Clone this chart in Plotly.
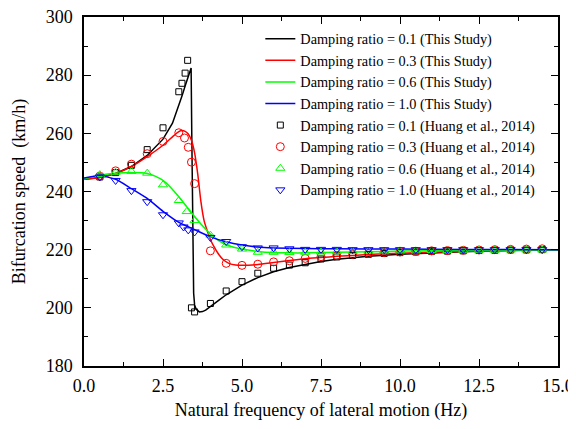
import plotly.graph_objects as go

# ---- Model curves (This Study) ----
x_01 = [0, 0.5, 1.0, 1.5, 2.0, 2.5, 2.8, 3.0, 3.1, 3.2, 3.3, 3.39, 3.41, 3.43, 3.45, 3.47, 3.5, 3.55, 3.65, 3.75, 3.85, 4.0, 4.25, 4.5, 5.0, 5.5, 6.0, 6.5, 7.0, 7.5, 8, 9, 10, 11, 12, 13, 14, 15]
y_01 = [244.2, 244.8, 246.2, 248.6, 252.4, 258.0, 263.5, 269.5, 272.8, 276.3, 279.6, 282.5, 260, 240, 220, 205, 201, 199.5, 198.6, 198.7, 199.2, 200.5, 202.5, 204.5, 207.8, 210.4, 212.4, 213.9, 215.0, 215.9, 216.7, 217.7, 218.4, 218.9, 219.3, 219.6, 219.8, 220.0]

x_03 = [0, 0.5, 1.0, 1.5, 2.0, 2.5, 2.8, 3.0, 3.1, 3.2, 3.3, 3.4, 3.5, 3.6, 3.7, 3.8, 3.9, 4.0, 4.1, 4.25, 4.4, 4.6, 4.8, 5.0, 5.5, 6.0, 6.5, 7.0, 7.5, 8, 9, 10, 11, 12, 13, 14, 15]
y_03 = [244.2, 244.8, 246.2, 248.6, 252.0, 255.9, 258.8, 260.6, 261.0, 260.7, 259.8, 257.6, 253.3, 246.0, 236.5, 230.0, 226.5, 223.5, 221.3, 218.6, 216.6, 215.2, 214.7, 214.6, 214.9, 215.6, 216.3, 216.9, 217.3, 217.7, 218.3, 218.8, 219.1, 219.4, 219.6, 219.8, 219.9]

x_06 = [0, 0.5, 1.0, 1.5, 2.0, 2.25, 2.5, 2.75, 3.0, 3.25, 3.5, 3.75, 4.0, 4.25, 4.5, 5.0, 5.5, 6.0, 6.5, 7.0, 8, 9, 10, 12, 15]
y_06 = [244.4, 245.6, 246.3, 246.5, 246.2, 245.3, 243.8, 241.3, 238.2, 234.8, 231.4, 228.2, 225.4, 223.2, 221.7, 220.2, 219.4, 219.0, 218.9, 218.9, 219.1, 219.3, 219.5, 219.7, 219.9]

x_10 = [0, 0.5, 1.0, 1.5, 2.0, 2.5, 3.0, 3.5, 4.0, 4.5, 5.0, 5.5, 6.0, 7.0, 8, 10, 12, 15]
y_10 = [244.6, 245.4, 244.2, 241.0, 237.6, 233.2, 229.4, 226.9, 224.4, 222.7, 221.6, 220.9, 220.6, 220.4, 220.3, 220.2, 220.1, 220.0]

# ---- Reference data (Huang et al., 2014) ----
hx_01 = [0.5, 1.0, 1.5, 2.0, 2.5, 3.0, 3.1, 3.2, 3.28, 3.4, 3.5, 4.0, 4.5, 5.0, 5.5, 6.0, 6.5, 7.0, 7.5, 8.0, 8.5, 9.0, 9.5, 10.0, 10.5, 11.0, 11.5, 12.0, 12.5, 13.0, 13.5, 14.0, 14.5]
hy_01 = [245.0, 246.5, 249.0, 254.4, 261.9, 274.3, 277.2, 280.7, 285.1, 200.0, 198.6, 201.5, 205.8, 209.0, 211.9, 213.6, 214.7, 215.5, 216.8, 217.5, 218.0, 218.4, 218.7, 219.0, 219.2, 219.4, 219.5, 219.6, 219.7, 219.8, 219.9, 219.9, 220.0]

hx_03 = [0.5, 1.0, 1.5, 2.0, 2.5, 3.0, 3.18, 3.3, 3.4, 3.5, 4.0, 4.5, 5.0, 5.5, 6.0, 6.5, 7.0, 7.5, 8.0, 8.5, 9.0, 9.5, 10.0, 10.5, 11.0, 11.5, 12.0, 12.5, 13.0, 13.5, 14.0, 14.5]
hy_03 = [245.3, 247.1, 249.4, 253.0, 257.2, 260.2, 258.4, 255.2, 250.1, 242.7, 219.6, 215.3, 214.6, 215.0, 215.8, 216.2, 217.0, 217.6, 218.0, 218.4, 218.7, 219.0, 219.2, 219.4, 219.6, 219.7, 219.8, 219.9, 220.0, 220.1, 220.2, 220.3]

hx_06 = [0.5, 1.0, 1.5, 2.0, 2.5, 3.0, 3.25, 3.5, 4.0, 4.5, 5.0, 5.5, 6.0, 6.5, 7.0, 7.5, 8.0, 8.5, 9.0, 9.5, 10.0, 10.5, 11.0, 11.5, 12.0, 12.5, 13.0, 13.5, 14.0, 14.5]
hy_06 = [245.8, 246.6, 246.9, 246.3, 242.3, 236.9, 233.1, 230.0, 225.0, 221.6, 220.2, 219.1, 219.1, 219.0, 219.1, 219.2, 219.3, 219.4, 219.5, 219.5, 219.6, 219.6, 219.7, 219.7, 219.8, 219.8, 219.8, 219.9, 219.9, 219.9]

hx_10 = [0.5, 1.0, 1.5, 2.0, 2.5, 3.0, 3.15, 3.3, 3.5, 4.0, 4.5, 5.0, 5.5, 6.0, 6.5, 7.0, 7.5, 8.0, 8.5, 9.0, 9.5, 10.0, 10.5, 11.0, 11.5, 12.0, 12.5, 13.0, 13.5, 14.0, 14.5]
hy_10 = [245.0, 243.8, 240.3, 236.5, 232.0, 229.2, 227.8, 226.8, 226.1, 224.2, 222.8, 221.0, 220.6, 220.6, 220.3, 220.1, 220.1, 220.1, 220.0, 220.0, 220.0, 220.0, 220.0, 220.0, 220.0, 220.0, 220.0, 220.0, 220.0, 220.0, 220.0]

x_ticks = [0.0, 2.5, 5.0, 7.5, 10.0, 12.5, 15.0]
y_ticks = [180, 200, 220, 240, 260, 280, 300]

FONT = "Liberation Serif"
fig = go.Figure()

lines = [
    (x_01, y_01, "#000000", "Damping ratio = 0.1 (This Study)", "linear"),
    (x_03, y_03, "#FF0000", "Damping ratio = 0.3 (This Study)", "spline"),
    (x_06, y_06, "#00FF00", "Damping ratio = 0.6 (This Study)", "spline"),
    (x_10, y_10, "#0000FF", "Damping ratio = 1.0 (This Study)", "spline"),
]
for xs, ys, c, name, shape in lines:
    fig.add_trace(go.Scatter(x=xs, y=ys, mode="lines", name=name,
                             line=dict(color=c, width=1.5, shape=shape, smoothing=0.6)))

marks = [
    (hx_01, hy_01, "#000000", "square-open", 6, "Damping ratio = 0.1 (Huang et al., 2014)"),
    (hx_03, hy_03, "#FF0000", "circle-open", 8, "Damping ratio = 0.3 (Huang et al., 2014)"),
    (hx_06, hy_06, "#00FF00", "triangle-up-open", 8, "Damping ratio = 0.6 (Huang et al., 2014)"),
    (hx_10, hy_10, "#0000FF", "triangle-down-open", 8, "Damping ratio = 1.0 (Huang et al., 2014)"),
]
for xs, ys, c, sym, sz, name in marks:
    fig.add_trace(go.Scatter(x=xs, y=ys, mode="markers", name=name,
                             marker=dict(symbol=sym, size=sz, color=c, line=dict(color=c, width=1))))

axis_common = dict(showline=True, linecolor="black", linewidth=1.5, mirror="ticks",
                   ticks="inside", ticklen=7, tickwidth=1.2, tickcolor="black",
                   showgrid=False, zeroline=False, automargin=False,
                   ticklabeloverflow="allow",
                   tickfont=dict(family=FONT, size=18, color="black"))

fig.update_xaxes(range=[0, 15], tickvals=x_ticks, ticktext=[f"{v:.1f}" for v in x_ticks],
                 minor=dict(ticks="inside", ticklen=4, tickwidth=1.2, tickcolor="black", dtick=1.25, tick0=0),
                 ticklabelstandoff=3,
                 title=dict(text="Natural frequency of lateral motion (Hz)",
                            font=dict(family=FONT, size=18, color="black")),
                 **axis_common)
fig.update_yaxes(range=[180, 300], tickvals=y_ticks,
                 minor=dict(ticks="inside", ticklen=4, tickwidth=1.2, tickcolor="black", dtick=10, tick0=180),
                 ticklabelstandoff=6,
                 title=dict(text="Bifurcation speed  (km/h)",
                            font=dict(family=FONT, size=18, color="black")),
                 **axis_common)

# The page body has an 8px margin, so the figure is sized and offset to compensate.
fig.update_layout(
    width=568, height=413,
    margin=dict(l=76, r=18, t=9, b=55),
    plot_bgcolor="white", paper_bgcolor="white",
    font=dict(family=FONT, color="black"),
    legend=dict(x=0.372, y=0.983, xanchor="left", yanchor="top",
                bgcolor="rgba(0,0,0,0)", borderwidth=0,
                font=dict(family=FONT, size=14.3, color="black"),
                tracegroupgap=0, itemwidth=30),
)

fig.write_html("out.html", default_width="568px", default_height="413px")
